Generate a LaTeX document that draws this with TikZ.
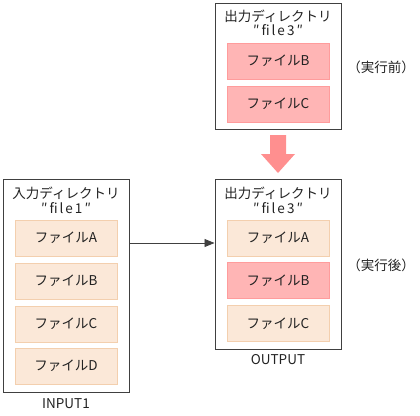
\documentclass[tikz,border=0pt]{standalone}
\usepackage{fontspec}
\setmainfont{Noto Sans CJK JP}
\newfontfamily\spaced[LetterSpace=15]{Noto Sans CJK JP}
\usetikzlibrary{arrows.meta}
\definecolor{pinkfill}{HTML}{FFB5B5}
\definecolor{pinkline}{HTML}{FF9C9C}
\definecolor{beigefill}{HTML}{FBE8D8}
\definecolor{beigeline}{HTML}{F3CFAE}
\definecolor{arrowpink}{HTML}{FF8F8F}
\definecolor{boxline}{HTML}{404040}
\definecolor{txt}{HTML}{222222}
\tikzset{
  outerbox/.style={draw=boxline, line width=1pt, fill=white, minimum width=126, inner sep=0pt},
  filebox/.style={draw=#1line, fill=#1fill, line width=0.8pt, minimum width=102, minimum height=36, inner sep=0pt, font=\fontsize{13.5}{15}\selectfont, text=txt},
  lbl/.style={font=\fontsize{13.5}{15}\selectfont, text=txt, inner sep=0pt},
  fname/.style={font=\fontsize{13.5}{15}\selectfont\spaced, text=txt, inner sep=0pt},
  conn/.style={draw=boxline, line width=0.9pt, -{Triangle[length=10pt,width=8pt]}},
}
\begin{document}
\begin{tikzpicture}[x=1pt,y=-1pt]
\useasboundingbox (0,0) rectangle (420,415);
% top directory (before)
\node[outerbox, minimum height=126] (top) at (278,66) {};
\node[lbl] (ttitle) at (278,16) {出力ディレクトリ};
\node[fname] (tname) at (278,30) {″file3″};
\node[filebox=pink] (tB) at (278,61) {ファイルB};
\node[filebox=pink] (tC) at (278,104) {ファイルC};
\node[lbl] (before) at (381,67) {（実行前）};
% big arrow
\fill[arrowpink] (270,135) -- (286,135) -- (286,154) -- (295,154) -- (278,173) -- (261,154) -- (270,154) -- cycle;
% left directory
\node[outerbox, minimum height=213] (left) at (66,285.5) {};
\node[lbl] (ltitle) at (66,193) {入力ディレクトリ};
\node[fname] (lname) at (66,208) {″file1″};
\node[filebox=beige] (lA) at (66,238) {ファイルA};
\node[filebox=beige] (lB) at (66,281) {ファイルB};
\node[filebox=beige] (lC) at (66,324) {ファイルC};
\node[filebox=beige] (lD) at (66,366) {ファイルD};
\node[lbl] (input) at (66,404) {INPUT1};
% right directory (after)
\node[outerbox, minimum height=170] (right) at (278,264) {};
\node[lbl] (rtitle) at (278,193) {出力ディレクトリ};
\node[fname] (rname) at (278,208) {″file3″};
\node[filebox=beige] (rA) at (278,238) {ファイルA};
\node[filebox=pink] (rB) at (278,280.5) {ファイルB};
\node[filebox=beige] (rC) at (278,323.5) {ファイルC};
\node[lbl] (output) at (278,360) {OUTPUT};
\node[lbl] (after) at (381,265) {（実行後）};
% connector
\coordinate (a1) at (129,243);
\draw[conn] (a1) -- (a1 -| right.west);
\end{tikzpicture}
\end{document}
